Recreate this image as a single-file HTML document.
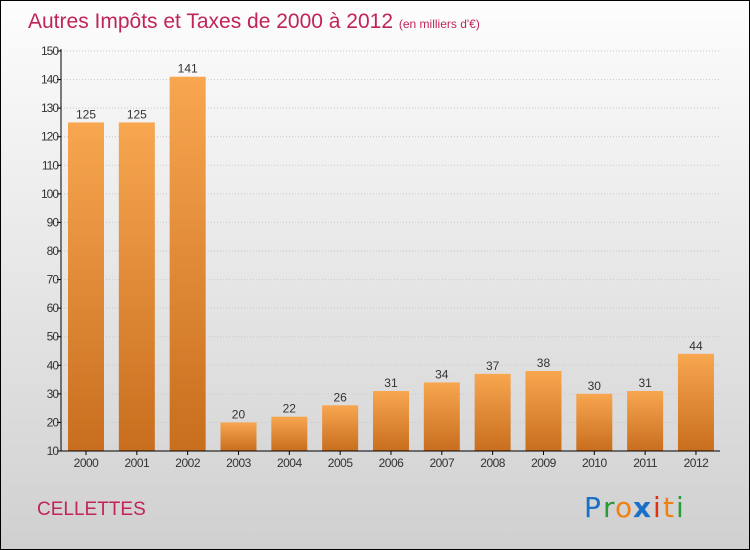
<!DOCTYPE html>
<html><head><meta charset="utf-8"><style>
html,body{margin:0;padding:0}
#c{width:750px;height:550px;position:relative;box-sizing:border-box;border:1px solid #000;background:linear-gradient(#fdfdfd,#d0d0d0);font-family:"Liberation Sans",sans-serif;overflow:hidden}
</style></head><body>
<div id="c">
<svg width="748" height="548" style="position:absolute;left:0;top:0" id="svg">
<defs><linearGradient id="bg" x1="0" y1="0" x2="0" y2="1"><stop offset="0" stop-color="#f8a650"/><stop offset="1" stop-color="#c86e1e"/></linearGradient></defs>
<text x="27" y="27" font-size="21" fill="#c0245a">Autres Impôts et Taxes de 2000 à 2012 <tspan font-size="12">(en milliers d'€)</tspan></text>
<text x="36" y="514" font-size="19" fill="#c0245a">CELLETTES</text>
<g font-size="28" font-family="'DejaVu Sans',sans-serif">
<text x="583" y="516" fill="#1a6fc8">P</text><text x="602" y="516" fill="#2a9a3a">r</text><text x="614" y="516" fill="#f08010">o</text><text x="632" y="516" fill="#1a6fc8" font-weight="bold">x</text><text x="652" y="516" fill="#e03010">i</text><text x="662" y="516" fill="#f08010">t</text><text x="675" y="516" fill="#2a9a3a">i</text>
</g>
</svg>
</div>
<script>
const categories=["2000","2001","2002","2003","2004","2005","2006","2007","2008","2009","2010","2011","2012"];
const values=[125,125,141,20,22,26,31,34,37,38,30,31,44];
const yTicks=[10,20,30,40,50,60,70,80,90,100,110,120,130,140,150];
const NS="http://www.w3.org/2000/svg",svg=document.getElementById("svg");
const y0=450,y1=50,vmin=10,vmax=150;
const y=v=>y0-(v-vmin)/(vmax-vmin)*(y0-y1);
const x=i=>85+i*50.83;
function mk(t,a,txt){const e=document.createElementNS(NS,t);for(const k in a)e.setAttribute(k,a[k]);if(txt!==undefined)e.textContent=txt;svg.appendChild(e);return e;}
yTicks.forEach(t=>{
const g=mk("line",{x1:60,x2:719,y1:y(t),y2:y(t),stroke:"#c8c8c8","stroke-dasharray":"1,2"});


const tk=mk("line",{x1:56,x2:60,y1:y(t),y2:y(t),stroke:"#000"});


const l=mk("text",{x:57,y:y(t)+4,"font-size":12,"text-anchor":"end",fill:"#333","letter-spacing":"-1"},t);


});
values.forEach((v,i)=>{
const b=mk("rect",{x:x(i)-18,y:y(v),width:36,height:y0-y(v),fill:"url(#bg)"});


const vl=mk("text",{x:x(i),y:y(v)-4,"font-size":12,"text-anchor":"middle",fill:"#333"},v);


const tk=mk("line",{x1:x(i),x2:x(i),y1:450,y2:454,stroke:"#000"});


const cl=mk("text",{x:x(i),y:466,"font-size":12,"text-anchor":"middle",fill:"#333","letter-spacing":"-0.5"},categories[i]);


});
const ya=mk("line",{x1:60,x2:60,y1:48,y2:450,stroke:"#000"});


const xa=mk("line",{x1:60,x2:719,y1:450,y2:450,stroke:"#000"});


</script>
</body></html>
